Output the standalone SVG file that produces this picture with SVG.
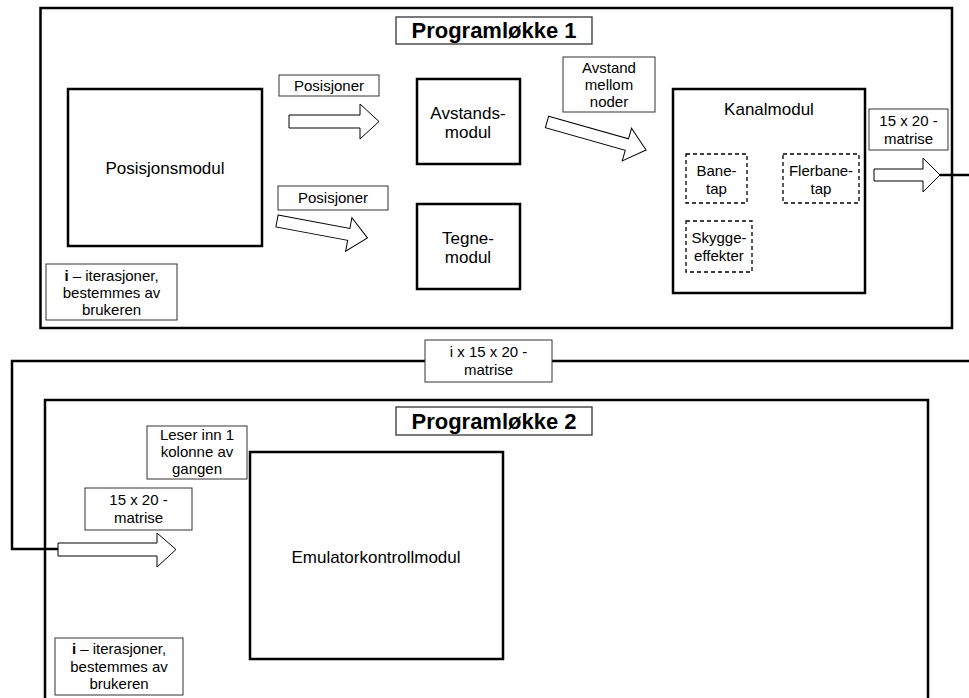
<svg xmlns="http://www.w3.org/2000/svg" width="969" height="698" viewBox="0 0 969 698">
<style>
  text { font-family: "Liberation Sans", Arial, sans-serif; fill: #000; text-anchor: middle; }
  .frame { fill: none; stroke: #000; stroke-width: 2.5; }
  .mod { fill: #fff; stroke: #000; stroke-width: 2.5; }
  .lbl { fill: #fff; stroke: #333; stroke-width: 1; }
  .title { fill: #fff; stroke: #333; stroke-width: 1.3; }
  .dash { fill: #fff; stroke: #000; stroke-width: 1.3; stroke-dasharray: 4 3; }
  .arr { fill: #fff; stroke: #000; stroke-width: 1; stroke-linejoin: miter; }
  .conn { fill: none; stroke: #000; stroke-width: 2.5; }
  .t15 { font-size: 15px; }
  .t17 { font-size: 17px; }
  .tt { font-size: 22px; font-weight: bold; }
</style>

<g id="loop1">
  <rect class="frame" x="40.5" y="8" width="911.5" height="320"/>
  <rect class="title" x="396" y="17" width="196" height="27"/>
  <text class="tt" x="494" y="38">Programløkke 1</text>
</g>

<g id="loop2">
  <rect class="frame" x="45" y="400" width="883" height="320"/>
  <rect class="title" x="396" y="407" width="196" height="28"/>
  <text class="tt" x="494" y="429">Programløkke 2</text>
</g>

<g id="connectors">
  <path class="conn" d="M940,175 H969"/>
  <path class="conn" d="M969,361 H12 V549 H58"/>
  <polygon class="arr" points="289,115 360,115 360,104 379,121.5 360,139 360,128 289,128"/>
  <polygon class="arr" transform="translate(277,221) rotate(10.6)" points="0,-6 73,-6 73,-17 92,0 73,17 73,6 0,6"/>
  <polygon class="arr" transform="translate(547,122) rotate(15.8)" points="0,-6 83,-6 83,-17 103,0 83,17 83,6 0,6"/>
  <polygon class="arr" points="874,169 923,169 923,158 940,175 923,192 923,181 874,181"/>
  <polygon class="arr" points="58,543 157,543 157,533 176,549.5 157,567 157,556 58,556"/>
</g>

<g id="posisjonsmodul">
  <rect class="mod" x="68" y="89" width="194" height="157"/>
  <text class="t17" x="165" y="174">Posisjonsmodul</text>
</g>

<g id="avstandsmodul">
  <rect class="mod" x="417" y="79" width="103" height="85"/>
  <text class="t17" x="468" y="119">Avstands-</text>
  <text class="t17" x="468" y="138">modul</text>
</g>

<g id="tegnemodul">
  <rect class="mod" x="417" y="204" width="103" height="85"/>
  <text class="t17" x="468" y="244">Tegne-</text>
  <text class="t17" x="468" y="263">modul</text>
</g>

<g id="kanalmodul">
  <rect class="mod" x="673" y="89" width="192" height="204"/>
  <text class="t17" x="769" y="115">Kanalmodul</text>
</g>

<g id="banetap">
  <rect class="dash" x="686" y="154" width="61" height="49"/>
  <text class="t15" x="716.5" y="176">Bane-</text>
  <text class="t15" x="716.5" y="194">tap</text>
</g>

<g id="flerbanetap">
  <rect class="dash" x="783" y="154" width="76" height="49"/>
  <text class="t15" x="821" y="176">Flerbane-</text>
  <text class="t15" x="821" y="194">tap</text>
</g>

<g id="skyggeeffekter">
  <rect class="dash" x="686" y="221" width="66" height="51"/>
  <text class="t15" x="719" y="243">Skygge-</text>
  <text class="t15" x="719" y="261">effekter</text>
</g>

<g id="emulatorkontrollmodul">
  <rect class="mod" x="250" y="452" width="253" height="207"/>
  <text class="t17" x="376" y="563">Emulatorkontrollmodul</text>
</g>

<g id="label-posisjoner1">
  <rect class="lbl" x="279" y="75" width="100" height="21"/>
  <text class="t15" x="329" y="91">Posisjoner</text>
</g>

<g id="label-posisjoner2">
  <rect class="lbl" x="278" y="186" width="110" height="24"/>
  <text class="t15" x="333" y="203">Posisjoner</text>
</g>

<g id="label-avstand">
  <rect class="lbl" x="563" y="57" width="92" height="55"/>
  <text class="t15" x="609" y="73">Avstand</text>
  <text class="t15" x="609" y="90">mellom</text>
  <text class="t15" x="609" y="107">noder</text>
</g>

<g id="label-matrise1">
  <rect class="lbl" x="869" y="109" width="79" height="41"/>
  <text class="t15" x="908.5" y="126">15 x 20 -</text>
  <text class="t15" x="908.5" y="144">matrise</text>
</g>

<g id="label-iter1">
  <rect class="lbl" x="46" y="264" width="131" height="56"/>
  <text class="t15" x="111.5" y="281"><tspan font-weight="bold">i</tspan> – iterasjoner,</text>
  <text class="t15" x="111.5" y="298">bestemmes av</text>
  <text class="t15" x="111.5" y="315">brukeren</text>
</g>

<g id="label-imatrise">
  <rect class="lbl" x="425" y="340" width="127" height="42"/>
  <text class="t15" x="488.5" y="357">i x 15 x 20 -</text>
  <text class="t15" x="488.5" y="375">matrise</text>
</g>

<g id="label-leser">
  <rect class="lbl" x="147" y="426" width="100" height="53"/>
  <text class="t15" x="197" y="440">Leser inn 1</text>
  <text class="t15" x="197" y="457">kolonne av</text>
  <text class="t15" x="197" y="474">gangen</text>
</g>

<g id="label-matrise2">
  <rect class="lbl" x="85" y="488" width="107" height="42"/>
  <text class="t15" x="138.5" y="505">15 x 20 -</text>
  <text class="t15" x="138.5" y="523">matrise</text>
</g>

<g id="label-iter2">
  <rect class="lbl" x="55" y="638" width="128" height="57"/>
  <text class="t15" x="119" y="654"><tspan font-weight="bold">i</tspan> – iterasjoner,</text>
  <text class="t15" x="119" y="672">bestemmes av</text>
  <text class="t15" x="119" y="689">brukeren</text>
</g>
</svg>
